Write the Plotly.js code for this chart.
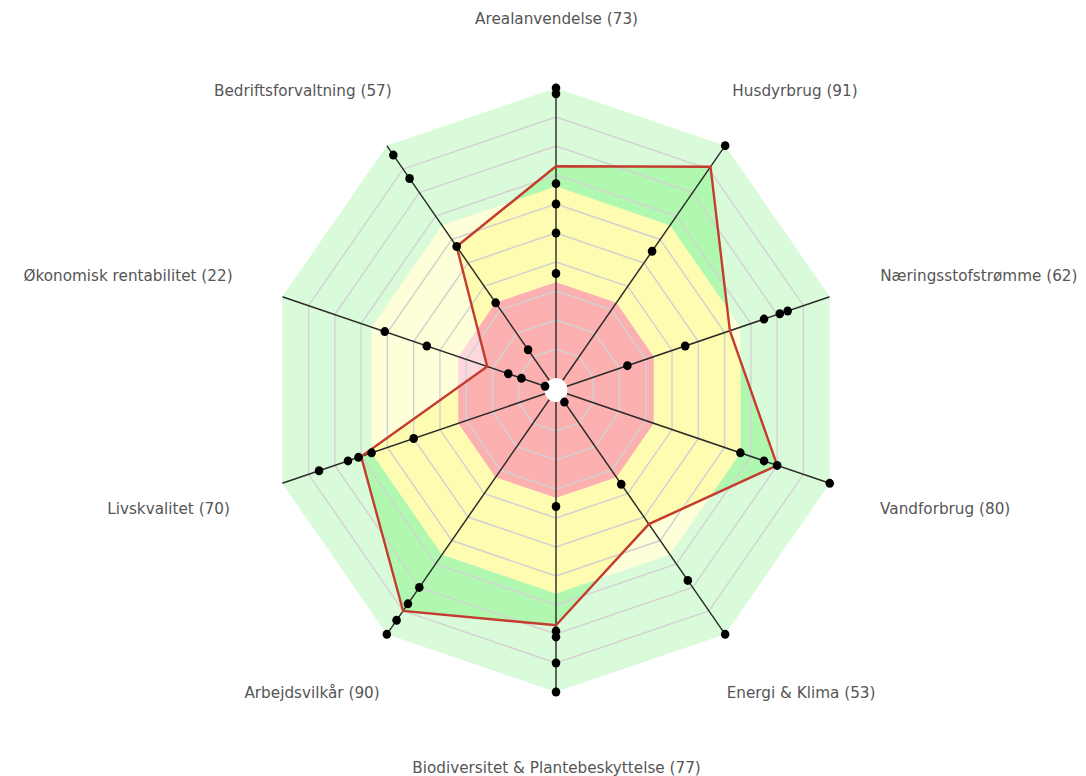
<!DOCTYPE html>
<html><head><meta charset="utf-8">
<script src="https://cdn.plot.ly/plotly-3.0.1.min.js"></script>
<style>
html,body{margin:0;padding:0;background:#fff;overflow:hidden;width:1086px;height:776px}
#chart{width:1200px;height:776px;margin-left:-44px;transform:scaleX(0.953);transform-origin:600px 0}
</style>
</head><body><div id="chart"></div>
<script>
// ---------- data ----------
const categories = ['Arealanvendelse','Husdyrbrug','Næringsstofstrømme','Vandforbrug','Energi & Klima','Biodiversitet & Plantebeskyttelse','Arbejdsvilkår','Livskvalitet','Økonomisk rentabilitet','Bedriftsforvaltning'];
const themeScores = [73, 91, 62, 80, 53, 77, 90, 70, 22, 57];
const indicatorScores = [
  [100, 98, 67, 60, 50, 36],
  [100, 55],
  [84, 81, 75, 45, 23],
  [100, 80, 75, 66],
  [100, 77, 36, 1],
  [100, 90, 81, 79, 36],
  [100, 94, 87, 80],
  [86, 75, 71, 66, 50],
  [61, 45, 14, 9, 0],
  [96, 86, 57, 33, 13]
];
const bandLimits = [33, 66, 100];           // red / yellow / green upper limits
const gridValues = [10, 20, 30, 40, 50, 60, 70, 80, 90];

// ---------- styling / layout constants ----------
const W = 1200, H = 776;          // plot canvas (wider, then squeezed by CSS)
const PX = 600;                   // canvas x that lands on page x 556
const PAGE_CX = 556, CY = 390, R = 302;
const SX = 0.953;                 // horizontal squeeze applied by CSS
const HOLE = 0.04;
const lightColors = ['#fcd8dc', '#fefed8', '#dafbda'];
const darkColors  = ['#fcb0b0', '#fdfcb0', '#b0f8b0'];
const labelLayout = [   // page pixel anchors of the axis labels
  {x:556, y:18,  xa:'center'}, {x:730, y:90,  xa:'left'},  {x:878, y:275, xa:'left'},
  {x:878, y:508, xa:'left'},   {x:725, y:692, xa:'left'},  {x:556, y:767, xa:'center'},
  {x:382, y:692, xa:'right'},  {x:232, y:508, xa:'right'}, {x:235, y:275, xa:'right'},
  {x:394, y:90,  xa:'right'}
];

const n = categories.length;
const step = 360 / n;
const angles = categories.map((c, i) => i * step);

function rho(v) { return HOLE + (1 - HOLE) * v / 100; }
function unrho(p) { return (p - HOLE) / (1 - HOLE) * 100; }
function xy(v, deg) { const a = deg * Math.PI / 180; return [rho(v) * Math.cos(a), rho(v) * Math.sin(a)]; }

// outline of (data polygon ∩ band polygon of level h)
function clipPolygon(values, h) {
  const r = [], t = [];
  for (let i = 0; i < n; i++) {
    const j = (i + 1) % n;
    const a0 = angles[i], a1 = a0 + step;
    const vi = values[i], vj = values[j];
    r.push(Math.min(vi, h)); t.push(a0);
    if ((vi - h) * (vj - h) < 0) {
      const P0 = xy(vi, a0), P1 = xy(vj, a1), Q0 = xy(h, a0), Q1 = xy(h, a1);
      const dx1 = P1[0] - P0[0], dy1 = P1[1] - P0[1], dx2 = Q1[0] - Q0[0], dy2 = Q1[1] - Q0[1];
      const den = dx1 * dy2 - dy1 * dx2;
      const s = ((Q0[0] - P0[0]) * dy2 - (Q0[1] - P0[1]) * dx2) / den;
      const X = P0[0] + s * dx1, Y = P0[1] + s * dy1;
      let deg = Math.atan2(Y, X) * 180 / Math.PI;
      deg = a0 + (((deg - a0) % 360) + 360) % 360;
      r.push(unrho(Math.hypot(X, Y))); t.push(deg);
    }
  }
  r.push(r[0]); t.push(t[0]);
  return {r, t};
}
function ring(v) { return {r: angles.map(() => v).concat([v]), t: angles.concat([360])}; }

const traces = [];
for (let b = bandLimits.length - 1; b >= 0; b--) {
  const lim = bandLimits[b];
  const rg = ring(lim);
  traces.push({type:'scatterpolar', mode:'lines', r: rg.r, theta: rg.t, fill:'toself',
    fillcolor: lightColors[b], line:{width:0, color:'rgba(0,0,0,0)'}, hoverinfo:'skip'});
  const cp = clipPolygon(themeScores, lim);
  traces.push({type:'scatterpolar', mode:'lines', r: cp.r, theta: cp.t, fill:'toself',
    fillcolor: darkColors[b], line:{width:0, color:'rgba(0,0,0,0)'}, hoverinfo:'skip'});
}
{
  const r = [], t = [];
  gridValues.forEach(v => { const rg = ring(v); r.push(...rg.r, null); t.push(...rg.t, null); });
  traces.push({type:'scatterpolar', mode:'lines', r, theta: t, line:{color:'#d2d2d2', width:1.5}, hoverinfo:'skip'});
}
{
  const r = [], t = [];
  angles.forEach(a => { r.push(0, 100, null); t.push(a, a, null); });
  traces.push({type:'scatterpolar', mode:'lines', r, theta: t, line:{color:'#2a2a2a', width:1.5}, hoverinfo:'skip'});
}
traces.push({type:'scatterpolar', mode:'lines', r: themeScores.concat([themeScores[0]]),
  theta: angles.concat([360]), line:{color:'#c43c30', width:2.5}, name:'Tema'});
{
  const r = [], t = [];
  indicatorScores.forEach((arr, i) => arr.forEach(v => { r.push(v); t.push(angles[i]); }));
  traces.push({type:'scatterpolar', mode:'markers', r, theta: t, marker:{color:'#000', size:9}, name:'Indikatorer'});
}

const annotations = categories.map((c, i) => ({
  text: c + ' (' + themeScores[i] + ')',
  xref:'paper', yref:'paper',
  x: (PX + (labelLayout[i].x - PAGE_CX) / SX) / W, y: 1 - labelLayout[i].y / H,
  xanchor: labelLayout[i].xa, yanchor:'middle', showarrow:false,
  font:{family:'DejaVu Sans, Verdana, sans-serif', size:16, color:'#555'}
}));

const layout = {
  width: W, height: H, margin:{l:0, r:0, t:0, b:0}, showlegend:false,
  paper_bgcolor:'#fff', annotations,
  polar: {
    domain:{x:[(PX - R) / W, (PX + R) / W], y:[(H - CY - R) / H, (H - CY + R) / H]},
    hole: HOLE, bgcolor:'rgba(0,0,0,0)',
    radialaxis:{range:[0, 100], showgrid:false, showline:false, showticklabels:false, ticks:''},
    angularaxis:{rotation:90, direction:'clockwise', showgrid:false, showline:false, showticklabels:false, ticks:''}
  }
};
Plotly.newPlot('chart', traces, layout, {displayModeBar:false, staticPlot:true});
</script></body></html>
